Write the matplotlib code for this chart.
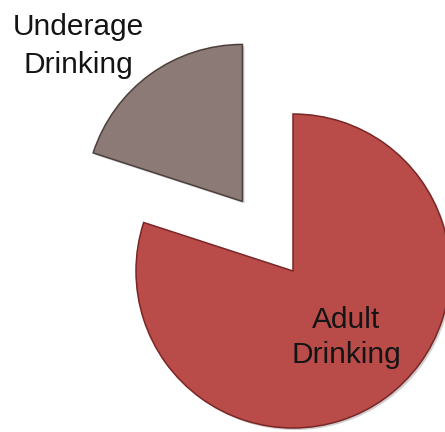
import matplotlib.pyplot as plt
import matplotlib.patheffects as pe

# share of drinking, underage vs adult
labels = ['Underage\nDrinking', 'Adult\nDrinking']
shares = [20, 80]
fills = ['#8b7a76', '#b94c49']
edges = ['#4d403c', '#7a2626']
explode = [86, 0]

W, H = 445, 432
fig = plt.figure(figsize=(W / 100, H / 100), dpi=100)
ax = fig.add_axes([0, 0, 1, 1])

wedges, _ = ax.pie(shares, explode=explode, colors=fills, startangle=90,
                   counterclock=True, radius=157, center=(293, H - 271),
                   frame=True,
                   wedgeprops=dict(linewidth=1.1))
for w, ec in zip(wedges, edges):
    w.set_edgecolor(ec)
    w.set_path_effects([pe.SimplePatchShadow(offset=(1.5, -1.5), shadow_rgbFace='#777777', alpha=0.35),
                        pe.Normal()])

# label text, one line at a time (x centre, baseline of first line, line step)
label_pos = [(78, 35, 38), (346, 328, 35)]
for text, (x, y0, step) in zip(labels, label_pos):
    for i, line in enumerate(text.split('\n')):
        ax.text(x, H - (y0 + i * step), line, ha='center', va='baseline',
                fontsize=21.5, family='Liberation Sans', color='#141414')

ax.set_xlim(0, W)
ax.set_ylim(0, H)
ax.set_aspect('equal')
ax.axis('off')

fig.savefig('out.png', dpi=100)
